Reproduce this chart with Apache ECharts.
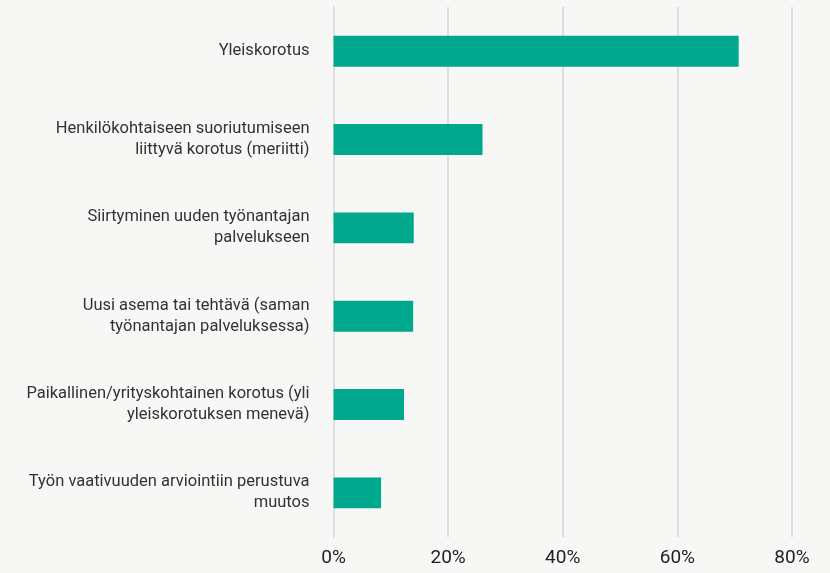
<!DOCTYPE html>
<html><head><meta charset="utf-8">
<script src="https://cdn.jsdelivr.net/npm/echarts@6/dist/echarts.min.js"></script>
<style>html,body{margin:0;padding:0;background:#f7f7f5}#c{width:830px;height:573px}</style>
</head><body><div id="c"></div>
<script>
const categories = [
  "Yleiskorotus",
  "Henkilökohtaiseen suoriutumiseen\nliittyvä korotus (meriitti)",
  "Siirtyminen uuden työnantajan\npalvelukseen",
  "Uusi asema tai tehtävä (saman\ntyönantajan palveluksessa)",
  "Paikallinen/yrityskohtainen korotus (yli\nyleiskorotuksen menevä)",
  "Työn vaativuuden arviointiin perustuva\nmuutos"
];
const values = [70.7, 26.0, 14.0, 13.9, 12.3, 8.3];
const tickValues = [0, 20, 40, 60, 80];

const chart = echarts.init(document.getElementById('c'), null, {renderer: 'canvas'});
chart.setOption({
  backgroundColor: '#f7f7f5',
  animation: false,
  grid: {left: 333.5, right: 38, top: 7, bottom: 36, containLabel: false},
  xAxis: {
    type: 'value', min: 0, max: 80, interval: 20,
    axisLine: {show: false}, axisTick: {show: false},
    splitLine: {show: true, lineStyle: {color: '#dedede', width: 2}},
    axisLabel: {formatter: v => v + '%', color: '#222', fontSize: 19, fontFamily: 'Roboto', margin: 12}
  },
  yAxis: {
    type: 'category', data: categories, inverse: true,
    axisLine: {show: true, lineStyle: {color: '#dedede', width: 2}},
    axisTick: {show: false},
    axisLabel: {color: '#333', fontSize: 16.5, fontFamily: 'Roboto', margin: 24, lineHeight: 21, align: 'right'}
  },
  series: [{
    type: 'bar', data: values, barWidth: '35%',
    itemStyle: {color: '#00a88e'}
  }]
});
</script></body></html>
